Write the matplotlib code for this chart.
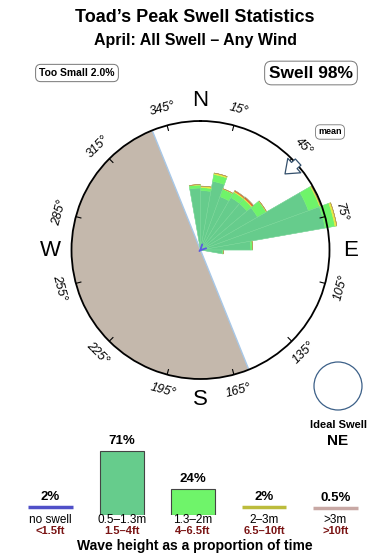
import numpy as np
import matplotlib
matplotlib.use("Agg")
import matplotlib.pyplot as plt
from matplotlib.patches import Ellipse

plt.rcParams['font.family'] = ['Liberation Sans', 'DejaVu Sans']

# swell rose: direction bins (start bearing, 10 deg wide), lengths as % of the outer ring
dir_start = [-10, 0, 10, 20, 30, 40, 50, 60, 70, 80, 90]
band_small = [48, 46, 54, 44, 47, 47, 51, 89, 98, 39, 17]    # 0.5-1.3m
band_mid = [2.3, 2.3, 5.4, 6.2, 4.7, 4.7, 7.8, 9.3, 7.8, 1.5, 0.8]  # 1.3-2m
band_big = [0.4, 1.2, 1.2, 0.4, 0.8, 0.8, 0.4, 0.8, 1.5, 0, 0]   # 2-3m
band_huge = [0, 0, 0, 0, 0.8, 1.2, 0, 0, 0, 0, 0]              # >3m
rose_colors = ['#66cc8c', '#6ff46a', '#e8e840', '#e06030']

# sheltered sector (bearings) and mean direction
shadow_from, shadow_to = 158, 338
mean_dir = 48

# wave height legend
cats = ['no swell', '0.5\u20131.3m', '1.3\u20132m', '2\u20133m', '>3m']
cats_ft = ['<1.5ft', '1.5\u20134ft', '4\u20136.5ft', '6.5\u201310ft', '>10ft']
pct = [2, 71, 24, 2, 0.5]
pct_txt = ['2%', '71%', '24%', '2%', '0.5%']
leg_colors = ['#5050c8', '#66cc8c', '#6ff46a', '#bcbc3c', '#c8a8a4']

W, H = 390, 560
fig = plt.figure(figsize=(W / 100, H / 100), dpi=100)


def fx(x):
    return x / W


def fy(y):
    return 1 - y / H


# titles
fig.text(fx(195), fy(18), 'Toad\u2019s Peak Swell Statistics', ha='center', va='center',
         fontsize=13, fontweight='bold')
fig.text(fx(195), fy(41), 'April: All Swell \u2013 Any Wind', ha='center', va='center',
         fontsize=11.5, fontweight='bold')
fig.text(fx(77), fy(73), 'Too Small 2.0%', ha='center', va='center', fontsize=7.5, fontweight='bold',
         bbox=dict(boxstyle='round,pad=0.35,rounding_size=0.5', fc='white', ec='#777777', lw=0.7))
fig.text(fx(311), fy(73), 'Swell 98%', ha='center', va='center', fontsize=12.5, fontweight='bold',
         bbox=dict(boxstyle='round,pad=0.25,rounding_size=0.4', fc='white', ec='#777777', lw=0.7))
fig.text(fx(330), fy(132), 'mean', ha='center', va='center', fontsize=6.5, fontweight='bold',
         bbox=dict(boxstyle='round,pad=0.3,rounding_size=0.5', fc='white', ec='#777777', lw=0.6))

# compass rose
cx, cy, R = 200.5, 250, 129
ax = fig.add_axes([fx(cx - R), fy(cy + R), 2 * R / W, 2 * R / H], projection='polar')
ax.set_theta_zero_location('N')
ax.set_theta_direction(-1)
ax.set_ylim(0, 100)
ax.set_xticks([])
ax.set_yticks([])
ax.grid(False)
ax.spines['polar'].set_linewidth(1.3)
ax.spines['polar'].set_zorder(6)

# sheltered half
sh_mid = np.deg2rad((shadow_from + shadow_to) / 2)
sh_w = np.deg2rad(shadow_to - shadow_from)
ax.bar(sh_mid, 100, width=sh_w, bottom=0, color='#c4b8ac', edgecolor='none', zorder=1)
for b in (shadow_from, shadow_to):
    ax.plot([np.deg2rad(b)] * 2, [0, 100], color='#a8c8e8', lw=1.0, zorder=1.5)

theta = np.deg2rad(np.array(dir_start) + 5)
width = np.deg2rad(10)
bottom = np.zeros(len(dir_start))
for vals, col in zip([band_small, band_mid, band_big, band_huge], rose_colors):
    vals = np.array(vals, dtype=float)
    ax.bar(theta, vals, width=width, bottom=bottom, color=col, edgecolor=col,
           lw=0.3, zorder=3, clip_on=False)
    bottom += vals
# faint seams between wedges
ax.bar(theta, bottom, width=width, bottom=0, color='none', edgecolor='#7cd89a',
       lw=0.3, zorder=3.5, clip_on=False)

# no-swell marker at the centre
ax.annotate('', xy=(np.deg2rad(225), 4), xytext=(np.deg2rad(45), 1),
            arrowprops=dict(arrowstyle='->', color='#5a5ae0', lw=1.3), zorder=4)

# degree ticks and labels
for b in range(15, 360, 30):
    t = np.deg2rad(b)
    ax.plot([t, t], [96, 100], color='black', lw=0.8, zorder=6)
    if b < 90:
        rot = -b
    elif b < 270:
        rot = 180 - b
    else:
        rot = 360 - b
    ax.text(t, 113, f'{b}\u00b0', rotation=rot, rotation_mode='anchor', ha='center', va='center',
            fontsize=9, fontstyle='italic', clip_on=False)

for lab, b in zip('NESW', [0, 90, 180, 270]):
    ax.text(np.deg2rad(b), 116, lab, ha='center', va='center', fontsize=16, clip_on=False)

# mean direction arrow
ax.annotate('', xy=(np.deg2rad(mean_dir), 86), xytext=(np.deg2rad(mean_dir), 104),
            arrowprops=dict(arrowstyle='simple,head_length=0.9,head_width=1.4,tail_width=0.6',
                            fc='white', ec='#34506c', lw=0.9), zorder=7, annotation_clip=False)

# ideal swell
fig.patches.append(Ellipse((fx(338), fy(386)), 48 / W, 48 / H, transform=fig.transFigure,
                           fill=False, ec='#3c6088', lw=0.9))
fig.text(fx(338), fy(425), 'Ideal Swell', ha='center', va='center', fontsize=8, fontweight='bold')
fig.text(fx(338), fy(441), 'NE', ha='center', va='center', fontsize=11, fontweight='bold')

# wave height legend bars
base = 7.5
ax2 = fig.add_axes([fx(15), fy(515), 356 / W, 75 / H])
ax2.set_xlim(-0.5, 4.5)
ax2.set_ylim(-base, 75 / 0.815 - base)
ax2.axis('off')
x = np.arange(len(cats))
bw = 0.625
for i, (p, col) in enumerate(zip(pct, leg_colors)):
    if p > 5:
        ax2.bar(i, p + base, bottom=-base, width=bw, color=col, edgecolor='#444444', lw=0.8)
    else:
        ax2.hlines(p, i - bw / 2, i + bw / 2, color=col, lw=2.5)
    ax2.annotate(pct_txt[i], (i, p), xytext=(0, 3), textcoords='offset points', ha='center',
                 va='bottom', fontsize=9.5, fontweight='bold', annotation_clip=False)
for i in x:
    xf = fx(15 + 356 * (i + 0.5) / 5)
    fig.text(xf, fy(520), cats[i], ha='center', va='center', fontsize=8.5)
    fig.text(xf, fy(530.5), cats_ft[i], ha='center', va='center', fontsize=8, fontweight='bold',
             color='#7a1414')
fig.text(fx(195), fy(546), 'Wave height as a proportion of time', ha='center', va='center',
         fontsize=10, fontweight='bold')

fig.savefig('out.png', dpi=100)
